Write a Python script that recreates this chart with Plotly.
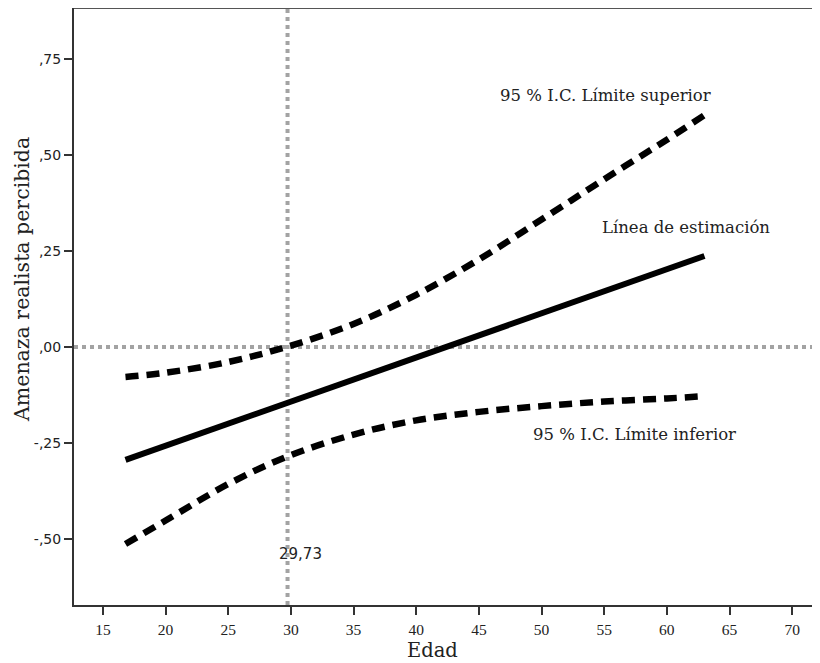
import plotly.graph_objects as go

# Data
edad = [16.8, 20, 25, 29.73, 35, 40, 45, 50, 55, 60, 63]
estimacion = [-0.294, -0.257, -0.200, -0.145, -0.085, -0.027, 0.030, 0.088, 0.145, 0.203, 0.237]
limite_superior = [-0.078, -0.067, -0.039, 0.001, 0.060, 0.136, 0.228, 0.332, 0.437, 0.540, 0.604]
limite_inferior = [-0.513, -0.452, -0.357, -0.285, -0.228, -0.191, -0.169, -0.154, -0.142, -0.134, -0.128]

jn_point = 29.73
x_ticks = [15, 20, 25, 30, 35, 40, 45, 50, 55, 60, 65, 70]
y_ticks = [0.75, 0.50, 0.25, 0.00, -0.25, -0.50]
y_tick_labels = [",75", ",50", ",25", ",00", "-,25", "-,50"]

x_range = [12.69, 72.22]
y_range = [-0.672, 0.883]

grey = "#a3a3a3"
fig = go.Figure()

# reference lines
fig.add_trace(go.Scatter(x=[jn_point, jn_point], y=y_range, mode="lines",
                         line=dict(color=grey, width=4, dash="dot"), hoverinfo="skip", showlegend=False))
fig.add_trace(go.Scatter(x=x_range, y=[0, 0], mode="lines",
                         line=dict(color=grey, width=4, dash="dot"), hoverinfo="skip", showlegend=False))

fig.add_trace(go.Scatter(x=edad, y=limite_superior, mode="lines", line_shape="spline",
                         line=dict(color="black", width=6.5, dash="13px,8px"), showlegend=False))
fig.add_trace(go.Scatter(x=edad, y=limite_inferior, mode="lines", line_shape="spline",
                         line=dict(color="black", width=6.5, dash="13px,8px"), showlegend=False))
fig.add_trace(go.Scatter(x=edad, y=estimacion, mode="lines",
                         line=dict(color="black", width=6), showlegend=False))

serif = "DejaVu Serif"
ann_font = dict(family=serif, size=16.5, color="#222")
fig.add_annotation(x=55.14, y=0.656, text="95 % I.C. Límite superior", showarrow=False,
                   font=ann_font, xanchor="center", yanchor="middle")
fig.add_annotation(x=61.53, y=0.310, text="Línea de estimación", showarrow=False,
                   font=ann_font, xanchor="center", yanchor="middle")
fig.add_annotation(x=57.38, y=-0.229, text="95 % I.C. Límite inferior", showarrow=False,
                   font=ann_font, xanchor="center", yanchor="middle")
fig.add_annotation(x=30.80, y=-0.539, text="29,73", showarrow=False,
                   font=dict(family="DejaVu Sans", size=15, color="#222"), xanchor="center", yanchor="middle")

# axis titles (placed like the reference)
title_font = dict(family=serif, size=19.5, color="#222")
fig.add_annotation(x=(432 - 8 - 66) / 746, y=-(650 - 8 - 597) / 597, xref="paper", yref="paper",
                   text="Edad", showarrow=False, font=title_font, borderpad=0,
                   xanchor="center", yanchor="middle")
fig.add_annotation(x=-(74 - 22) / 746, y=(605 - 280) / 597, xref="paper", yref="paper",
                   text="Amenaza realista percibida", showarrow=False, font=dict(family=serif, size=20.5, color="#222"),
                   textangle=-90, xanchor="center", yanchor="middle")

fig.update_layout(
    width=812, height=655,
    margin=dict(l=66, r=0, t=0, b=58),
    plot_bgcolor="white", paper_bgcolor="white",
    xaxis=dict(range=x_range, tickvals=x_ticks, ticktext=[str(v) for v in x_ticks],
               showgrid=False, zeroline=False, showline=True, linecolor="#333", linewidth=2,
               ticks="outside", ticklen=8, tickwidth=2, tickcolor="#333", ticklabelstandoff=1,
               tickfont=dict(family="Liberation Serif", size=15.5, color="#222")),
    yaxis=dict(range=y_range, tickvals=y_ticks, ticktext=y_tick_labels,
               showgrid=False, zeroline=False, showline=True, linecolor="#333", linewidth=2,
               ticks="outside", ticklen=8, tickwidth=2, tickcolor="#333",
               tickfont=dict(family="DejaVu Sans", size=14, color="#222")),
)
fig.add_shape(type="line", xref="paper", yref="paper", x0=0, x1=1, y0=1, y1=1,
              line=dict(color="#555", width=2))

fig.write_html("out.html")
